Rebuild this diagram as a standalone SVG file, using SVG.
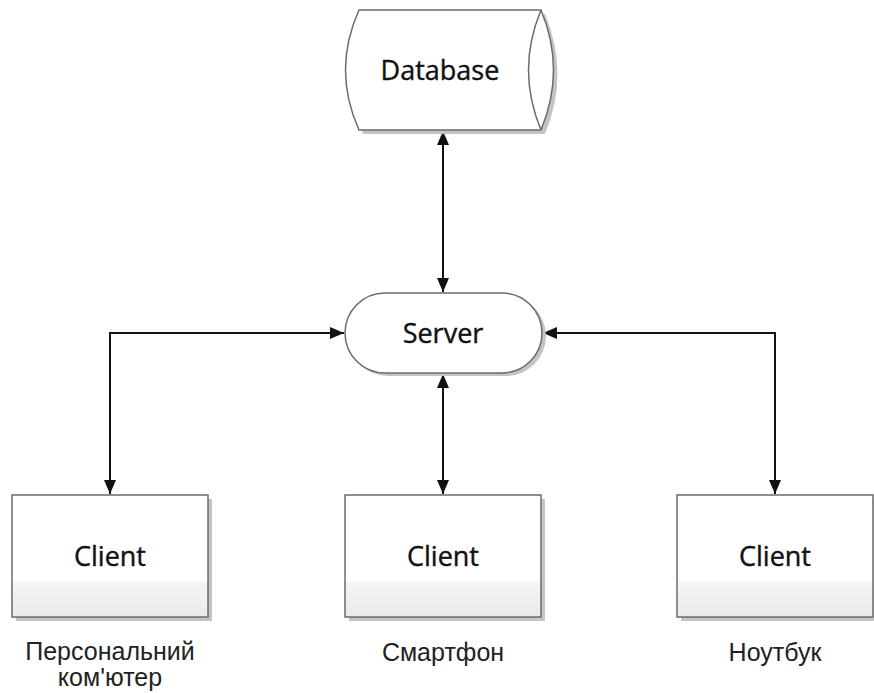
<svg xmlns="http://www.w3.org/2000/svg" width="874" height="693" viewBox="0 0 874 693">
<style>
.shape{fill:url(#g);stroke:#6b6b6b;stroke-width:1.5}
.shadow{fill:#c4c4c4}
.nt{font-family:"Open Sans","Noto Sans",sans-serif;font-size:27px;fill:#111;text-anchor:middle;stroke:#111;stroke-width:0.4}
.lb{font-family:"Liberation Sans",Arial,sans-serif;font-size:25px;fill:#222;text-anchor:middle}
.c{fill:none;stroke:#111;stroke-width:2;marker-start:url(#a);marker-end:url(#a)}
</style>
<defs>
<linearGradient id="g" x1="0" y1="0" x2="0" y2="1">
<stop offset="0" stop-color="#fff"/>
<stop offset="0.7" stop-color="#fff"/>
<stop offset="0.72" stop-color="#f5f5f5"/>
<stop offset="1" stop-color="#eaeaea"/>
</linearGradient>
<marker id="a" viewBox="0 0 14 12" refX="14" refY="6" markerWidth="14" markerHeight="12" markerUnits="userSpaceOnUse" orient="auto-start-reverse">
<path d="M0,0 L14,6 L0,12 z" fill="#111"/>
</marker>
</defs>
<g id="connectors">
<path class="c" d="M443,131 V292"/>
<path class="c" d="M443,374 V494"/>
<path class="c" d="M344,333 H110 V494"/>
<path class="c" d="M543,333 H775 V494"/>
</g>
<g id="database">
<path class="shadow" d="M363,14 H545 Q570,74 545,134 H363 Q336,74 363,14 z"/>
<path d="M359,10 H541 Q566,70 541,130 H359 Q332,70 359,10 z" fill="#fff" stroke="#6b6b6b" stroke-width="1.5"/>
<path d="M541,10 Q516,70 541,130" fill="none" stroke="#6b6b6b" stroke-width="1.5"/>
<text class="nt" x="440" y="80">Database</text>
</g>
<g id="server">
<rect class="shadow" x="348" y="296" width="198" height="80" rx="40"/>
<rect x="345" y="293" width="197" height="80" rx="40" fill="#fff" stroke="#6b6b6b" stroke-width="1.5"/>
<text class="nt" x="443" y="343">Server</text>
</g>
<g id="client1">
<rect class="shadow" x="16" y="499" width="196" height="122"/>
<rect class="shape" x="12" y="495" width="196" height="122"/>
<text class="nt" x="110" y="566">Client</text>
<text class="lb" x="110" y="660">Персональний</text>
<text class="lb" x="110" y="686">ком'ютер</text>
</g>
<g id="client2">
<rect class="shadow" x="349" y="499" width="196" height="122"/>
<rect class="shape" x="345" y="495" width="196" height="122"/>
<text class="nt" x="443" y="566">Client</text>
<text class="lb" x="443" y="661">Смартфон</text>
</g>
<g id="client3">
<rect class="shadow" x="681" y="499" width="196" height="122"/>
<rect class="shape" x="677" y="495" width="196" height="122"/>
<text class="nt" x="775" y="566">Client</text>
<text class="lb" x="775" y="661">Ноутбук</text>
</g>
</svg>
